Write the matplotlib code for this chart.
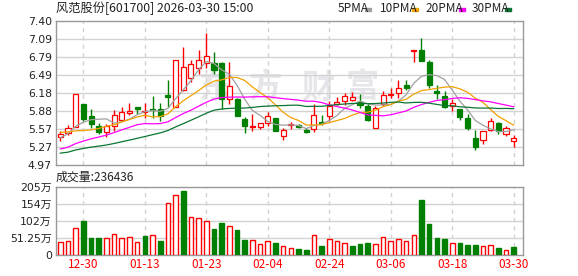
import numpy as np
import pandas as pd
import matplotlib
matplotlib.use("Agg")
import matplotlib.pyplot as plt
from matplotlib.patches import Rectangle

# closes before the first visible day (only needed to seed the moving averages)
prev_close = [5.10, 5.05, 5.00, 4.98, 5.02, 5.06, 5.04, 5.00, 5.03, 5.02,
              4.98, 4.95, 4.92, 4.90, 4.93, 4.96, 4.95, 4.98, 5.00, 5.03,
              5.50, 6.00, 5.70, 5.55, 5.30, 5.25, 5.55, 5.40, 5.46]

opens = [5.444, 5.511, 5.607, 6.002, 5.799, 5.630, 5.523, 5.624, 5.726, 5.855,
         5.951, 5.861, 5.917, 5.917, 6.154, 5.950, 6.239, 6.430, 6.605, 6.690,
         6.690, 6.695, 6.081, 6.092, 5.748, 5.607, 5.618, 5.675, 5.765, 5.455,
         5.652, 5.641, 5.568, 5.573, 5.692, 5.805, 6.007, 6.047, 6.075, 6.035,
         5.962, 5.590, 5.991, 6.143, 6.182, 6.317, 6.900, 6.909, 6.707, 6.222,
         6.132, 5.968, 5.917, 5.765, 5.427, 5.387, 5.556, 5.680, 5.494, 5.370]
highs = [5.539, 5.641, 6.170, 6.002, 5.917, 5.675, 5.664, 5.900, 5.951, 6.013,
         5.951, 6.019, 6.137, 6.019, 6.396, 6.740, 6.960, 6.740, 6.910, 7.203,
         6.870, 6.700, 6.706, 6.095, 5.788, 5.833, 5.680, 5.867, 5.770, 5.596,
         5.697, 5.664, 5.596, 6.002, 5.810, 6.058, 6.115, 6.188, 6.205, 6.171,
         6.019, 5.962, 6.227, 6.261, 6.396, 6.396, 6.912, 7.118, 6.740, 6.312,
         6.216, 6.092, 5.920, 5.838, 5.568, 5.540, 5.765, 5.697, 5.624, 5.472]
lows = [5.370, 5.472, 5.607, 5.720, 5.596, 5.500, 5.438, 5.540, 5.709, 5.821,
        5.833, 5.765, 5.765, 5.709, 5.945, 5.950, 6.227, 6.374, 6.509, 6.611,
        6.509, 5.917, 6.002, 5.800, 5.517, 5.540, 5.585, 5.624, 5.540, 5.399,
        5.585, 5.596, 5.511, 5.528, 5.641, 5.709, 5.979, 5.979, 6.047, 5.934,
        5.709, 5.590, 5.962, 6.103, 6.103, 6.239, 6.707, 6.720, 6.272, 6.092,
        5.934, 5.889, 5.737, 5.568, 5.229, 5.331, 5.540, 5.500, 5.455, 5.274]
closes = [5.489, 5.596, 6.165, 5.754, 5.664, 5.534, 5.624, 5.810, 5.867, 5.878,
          5.917, 5.878, 5.900, 5.805, 6.120, 6.740, 6.622, 6.673, 6.740, 6.808,
          6.566, 6.092, 6.301, 5.805, 5.625, 5.632, 5.675, 5.793, 5.548, 5.562,
          5.664, 5.613, 5.534, 5.810, 5.675, 5.974, 6.035, 6.137, 6.120, 5.979,
          5.737, 5.934, 6.148, 6.165, 6.262, 6.267, 6.909, 6.724, 6.312, 6.177,
          5.945, 6.013, 5.776, 5.590, 5.280, 5.540, 5.709, 5.551, 5.596, 5.421]
# volume in 万手
volumes = [38, 41, 80, 102, 51, 51, 50, 62, 50, 53,
           38, 57, 59, 42, 155, 179, 192, 113, 110, 101,
           78, 96, 86, 75, 45, 44, 32, 41, 36, 26,
           20, 18, 15, 59, 27, 47, 41, 35, 27, 33,
           36, 32, 53, 41, 47, 41, 59, 165, 93, 51,
           48, 35, 36, 30, 30, 26, 29, 21, 14, 23.6436]

tick_idx = [3, 11, 19, 27, 35, 43, 51, 59]
tick_labels = ["12-30", "01-13", "01-23", "02-04", "02-24", "03-06", "03-18", "03-30"]
price_labels = ["4.97", "5.27", "5.57", "5.88", "6.18", "6.49", "6.79", "7.09", "7.40"]
vol_ticks = [0, 51.25, 102.5, 153.75, 205]
vol_labels = ["0", "51.25万", "102万", "154万", "205万"]
ma_periods = [5, 10, 20, 30]
ma_names = ["5PMA", "10PMA", "20PMA", "30PMA"]
ma_colors = ["#a0a0a0", "#f2a100", "#ff00ff", "#0b7534"]
watermark = ["东", "方", "财", "富"]

RED = "#ff0000"
GREEN = "#008000"
GRID = "#d2d2d2"
FRAME = "#999999"
W, H = 578, 276

o, h, l, c = (np.array(a) for a in (opens, highs, lows, closes))
x = np.arange(len(c))
full = pd.Series(prev_close + closes)

fig = plt.figure(figsize=(W / 100, H / 100), dpi=100)
ax = fig.add_axes([56 / W, 1 - 165 / H, 466.7 / W, 144 / H])
axv = fig.add_axes([56 / W, 1 - 255 / H, 466.7 / W, 68.3 / H])

for a in (ax, axv):
    a.set_xlim(-0.56, 60.17)
    for s in a.spines.values():
        s.set_color(FRAME)
        s.set_linewidth(1)
    a.tick_params(length=0)
    for t in tick_idx:
        a.axvline(t, color=GRID, lw=1, ls=(0, (3, 3)), zorder=0)

# price panel
ptick = np.linspace(4.97, 7.40, 9)
ax.set_ylim(4.97, 7.40)
ax.set_yticks(ptick)
ax.set_yticklabels(price_labels, fontsize=7.8, color="#222222", family="DejaVu Sans")
ax.tick_params(axis="y", pad=3)
ax.set_xticks([])
for p in ptick[1:-1]:
    ax.axhline(p, color=GRID, lw=1, zorder=0)

# faint site watermark, behind the (transparent) price axes
for ch, cx in zip(watermark, [215, 266, 318, 362]):
    fig.text(cx / W, 1 - 88 / H, ch, ha="center", va="center", fontsize=24,
             fontweight="bold", color="#e6e6ea", family="Noto Sans CJK SC", zorder=-1)
ax.patch.set_alpha(0)

up = c >= o
col = np.where(up, RED, GREEN)
ax.vlines(x, l, h, colors=col, lw=1, zorder=2)
ax.bar(x, np.maximum(np.abs(c - o), 0.008), 0.66, bottom=np.minimum(o, c),
       color=np.where(up, "white", GREEN), edgecolor=col, lw=0.9, zorder=3)

for n, clr in zip(ma_periods, ma_colors):
    ma = full.rolling(n).mean().to_numpy()[len(prev_close):]
    ax.plot(x, ma, color=clr, lw=0.9, zorder=4)

# volume panel
prev = np.concatenate([[prev_close[-1]], c[:-1]])
vup = c >= prev
vcol = np.where(vup, RED, GREEN)
axv.set_ylim(0, 205)
axv.set_yticks(vol_ticks)
axv.set_yticklabels(vol_labels, fontsize=7.8, color="#222222",
                    family=["DejaVu Sans", "Noto Sans CJK SC"])
axv.tick_params(axis="y", pad=3)
for v in vol_ticks[1:-1]:
    axv.axhline(v, color=GRID, lw=1, zorder=0)
axv.bar(x, volumes, 0.6, color=np.where(vup, "white", GREEN), edgecolor=vcol, lw=1, zorder=3)
axv.set_xticks(tick_idx)
axv.set_xticklabels(tick_labels, fontsize=8.5, color=RED, family="Noto Sans CJK SC")
axv.tick_params(axis="x", pad=2)

# header texts
fig.text(56 / W, 1 - 8.5 / H, "风范股份[601700] 2026-03-30 15:00", fontsize=8.8,
         color="#222222", family="Noto Sans CJK SC", va="center", ha="left")
fig.text(56 / W, 1 - 177 / H, "成交量:%d" % round(volumes[-1] * 10000), fontsize=8.6,
         color="#222222", family="Noto Sans CJK SC", va="center", ha="left")

leg_x = [338, 380, 425, 472]
leg_mark = [365, 412, 459, 505]
for name, clr, tx, mx in zip(ma_names, ma_colors, leg_x, leg_mark):
    fig.text(tx / W, 1 - 8.5 / H, name, fontsize=8.5, color="#222222",
             family="Noto Sans CJK SC", va="center", ha="left")
    fig.patches.append(Rectangle((mx / W, 1 - 11 / H), 6 / W, 3 / H, color=clr,
                                 transform=fig.transFigure, figure=fig))

fig.savefig("out.png", dpi=100)
